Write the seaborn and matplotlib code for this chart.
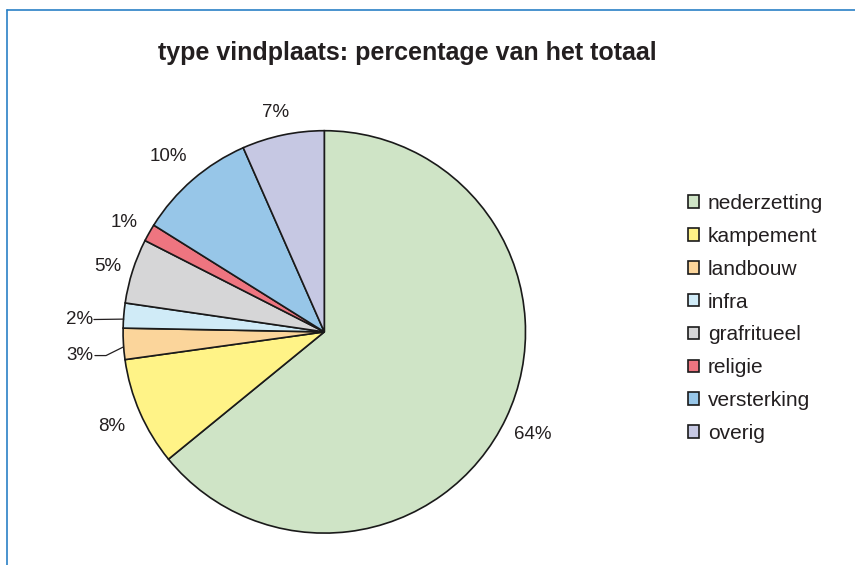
import numpy as np
import matplotlib
matplotlib.use("Agg")
import matplotlib.pyplot as plt
import seaborn as sns
from matplotlib.lines import Line2D

categories = ["nederzetting", "kampement", "landbouw", "infra",
              "grafritueel", "religie", "versterking", "overig"]
values = [64.1, 8.7, 2.5, 2.0, 5.2, 1.4, 9.5, 6.6]
pct_labels = ["64%", "8%", "3%", "2%", "5%", "1%", "10%", "7%"]
colors = ["#cfe4c6", "#fff387", "#fbd59b", "#d0ebf7",
          "#d6d6d7", "#ee7580", "#97c6e8", "#c6c8e3"]
title = "type vindplaats: percentage van het totaal"

sns.set_theme(style="white")
plt.rcParams['font.family'] = ['Liberation Sans', 'DejaVu Sans']

W, H = 855, 565
fig = plt.figure(figsize=(W / 100, H / 100), dpi=100)
fig.patch.set_facecolor("white")

cx, cy, R = 324.3, 331.9, 201.2
ax = fig.add_axes([(cx - R) / W, (H - cy - R) / H, 2 * R / W, 2 * R / H])
wedges, _ = ax.pie(values, colors=colors, startangle=90, counterclock=False,
                   radius=1,
                   wedgeprops=dict(edgecolor="#1a1a1a", linewidth=1.2))
for w in wedges:
    w.set_clip_on(False)
ax.set_xlim(-1, 1)
ax.set_ylim(-1, 1)
ax.set_aspect("auto")
ax.axis("off")

label_fs = 13.5
dist = [1.16, 1.14, None, None, 1.12, 1.13, 1.17, 1.13]
for i, w in enumerate(wedges):
    mid = np.deg2rad((w.theta1 + w.theta2) / 2)
    if dist[i] is not None:
        ax.text(dist[i] * np.cos(mid) - 0.01, dist[i] * np.sin(mid) - 0.015,
                pct_labels[i], ha="center", va="center",
                fontsize=label_fs, color="#231f20")

# small slices with leader lines
# landbouw (3%)
i = 2
mid = np.deg2rad((wedges[i].theta1 + wedges[i].theta2) / 2)
rx, ry = np.cos(mid), np.sin(mid)
ty = ry - 0.058
ax.plot([rx, -1.085, -1.14], [ry - 0.015, ty, ty], color="#231f20", lw=0.9,
        clip_on=False)
ax.text(-1.15, ty, pct_labels[i], ha="right", va="center",
        fontsize=label_fs, color="#231f20")
# infra (2%)
i = 3
mid = np.deg2rad((wedges[i].theta1 + wedges[i].theta2) / 2)
rx, ry = np.cos(mid), np.sin(mid)
ty = ry - 0.02
ax.plot([rx, -1.145], [ry - 0.018, ty], color="#231f20", lw=0.9,
        clip_on=False)
ax.text(-1.15, ty, pct_labels[i], ha="right", va="center",
        fontsize=label_fs, color="#231f20")

fig.text(407 / W, 1 - 53 / H, title, ha="center", va="center",
         fontsize=18, fontweight="bold", color="#231f20")

leg = ax.legend(wedges, categories, loc="upper left",
                bbox_to_anchor=(688 / W, 1 - 194 / H),
                bbox_transform=fig.transFigure, frameon=False,
                fontsize=15, handlelength=0.55, handleheight=0.55,
                handletextpad=0.4, labelspacing=0.665,
                borderaxespad=0, borderpad=0)
for t in leg.get_texts():
    t.set_color("#231f20")

# blue frame lines (top and left)
fc = "#2a80c6"
fig.add_artist(Line2D([7 / W, 1], [1 - 10 / H, 1 - 10 / H],
                      transform=fig.transFigure, color=fc, lw=1.2))
fig.add_artist(Line2D([7 / W, 7 / W], [0, 1 - 10 / H],
                      transform=fig.transFigure, color=fc, lw=1.2))

fig.savefig("out.png", dpi=100, facecolor="white")
